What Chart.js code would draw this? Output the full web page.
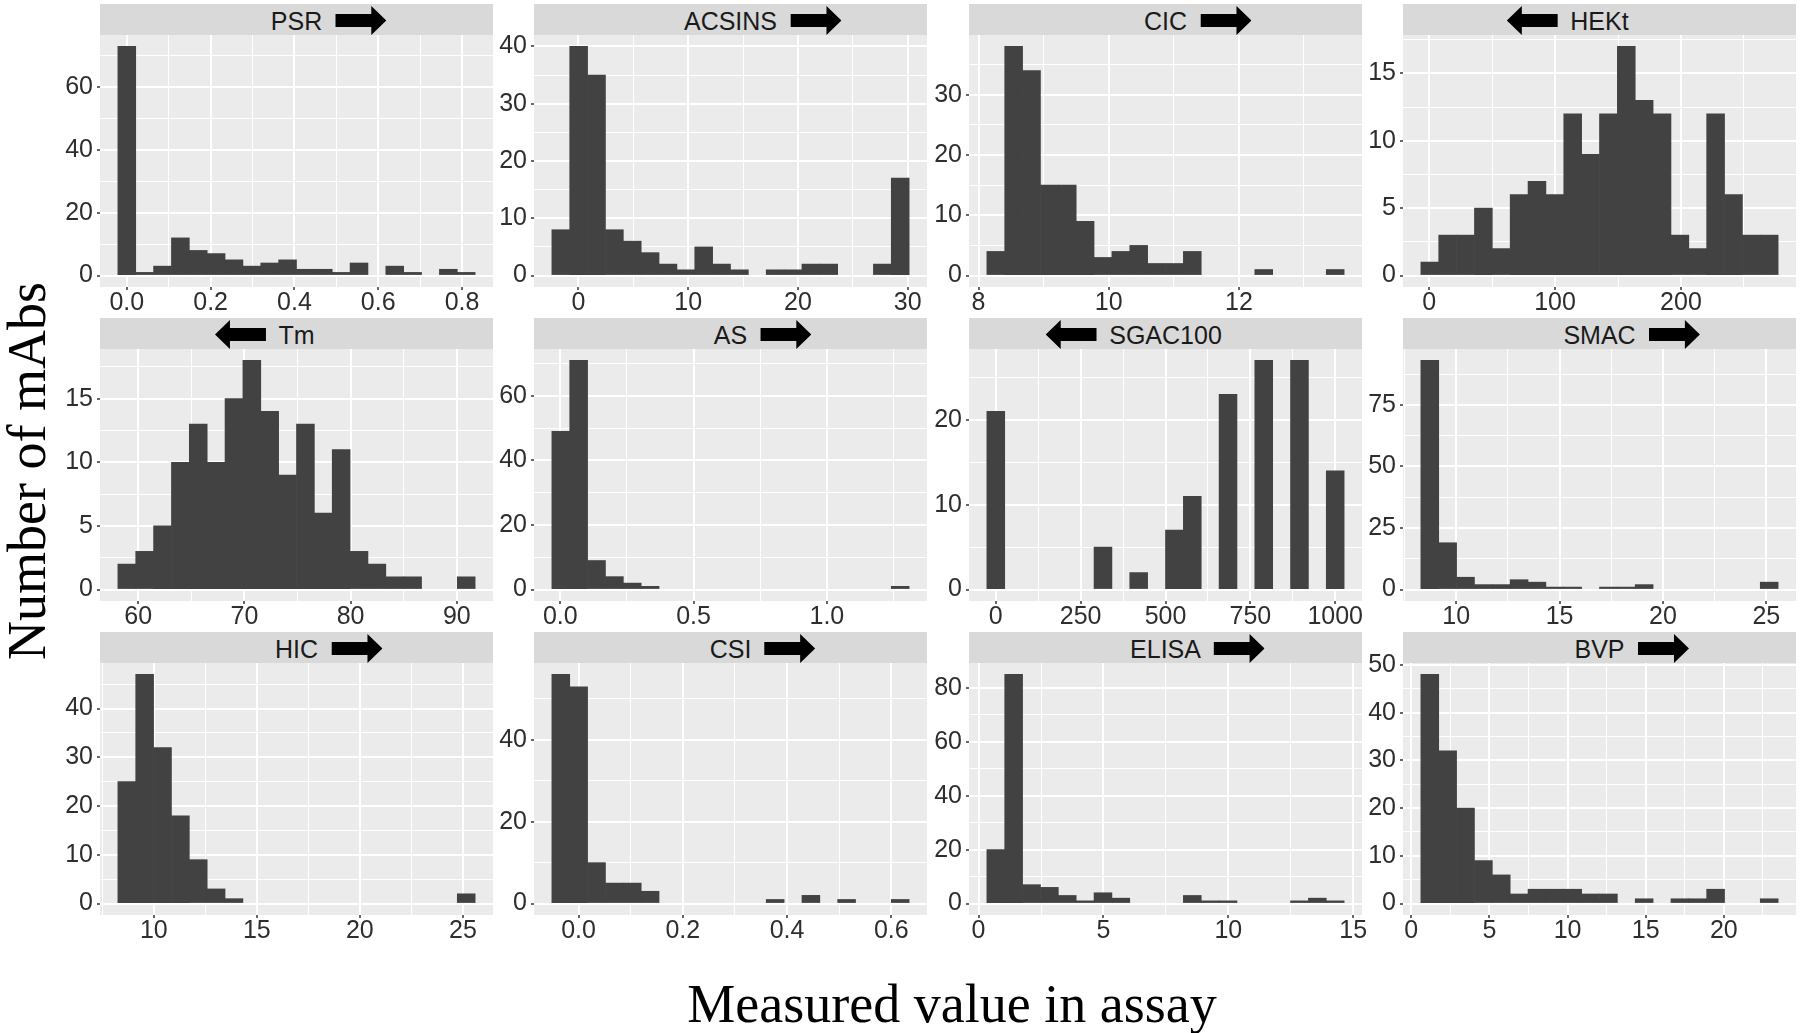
<!DOCTYPE html>
<html>
<head>
<meta charset="utf-8">
<script src="https://cdn.jsdelivr.net/npm/chart.js@4.4.1/dist/chart.umd.min.js"></script>
<style>
  html, body { margin: 0; padding: 0; background: #fff; }
  #fig { position: relative; width: 1800px; height: 1033px; overflow: hidden; font-family: "Liberation Sans", Arial, sans-serif; }
  .cell { position: absolute; }
  .strip { position: absolute; background: #d9d9d9; }
  .strip .lbl { position: absolute; left: 50%; top: calc(50% + 1px); transform: translate(-50%, -50%); font-size: 25px; line-height: 1; color: #1a1a1a; white-space: nowrap; }
  .strip svg { position: absolute; top: 50%; transform: translateY(-50%); }
  .title { position: absolute; font-family: "Liberation Serif", "Times New Roman", serif; font-size: 54px; line-height: 1; color: #000; white-space: nowrap; }
</style>
</head>
<body>
<div id="fig">
  <div class="title" style="left:452px; top:977px; width:1000px; text-align:center;">Measured value in assay</div>
  <div class="title" style="left:27px; top:471px; transform:translate(-50%,-50%) rotate(-90deg);">Number of mAbs</div>
</div>
<script>
// Histograms of 12 assay measurements for 137 mAbs (ggplot facet_wrap look)

// ---------- Data: 20 bins per assay, first/last bin centre ----------
const psrCounts = [73, 1, 3, 12, 8, 7, 5, 3, 4, 5, 2, 2, 1, 4, 0, 3, 1, 0, 2, 1];
const psrBins = [0.0, 0.81];
const psrXTicks = [0, 0.2, 0.4, 0.6, 0.8];
const psrXLabels = ["0.0", "0.2", "0.4", "0.6", "0.8"];
const psrYTicks = [0, 20, 40, 60];

const acsinsCounts = [8, 40, 35, 8, 6, 4, 2, 1, 5, 2, 1, 0, 1, 1, 2, 2, 0, 0, 2, 17];
const acsinsBins = [-1.61, 29.32];
const acsinsXTicks = [0, 10, 20, 30];
const acsinsYTicks = [0, 10, 20, 30, 40];

const cicCounts = [4, 38, 34, 15, 15, 9, 3, 4, 5, 2, 2, 4, 0, 0, 0, 1, 0, 0, 0, 1];
const cicBins = [8.265, 13.48];
const cicXTicks = [8, 10, 12];
const cicYTicks = [0, 10, 20, 30];

const hektCounts = [1, 3, 3, 5, 2, 6, 7, 6, 12, 9, 12, 17, 13, 12, 3, 2, 12, 6, 3, 3];
const hektBins = [0.5, 270.1];
const hektXTicks = [0, 100, 200];
const hektYTicks = [0, 5, 10, 15];

const tmCounts = [2, 3, 5, 10, 13, 10, 15, 18, 14, 9, 13, 6, 11, 3, 2, 1, 1, 0, 0, 1];
const tmBins = [58.93, 90.88];
const tmXTicks = [60, 70, 80, 90];
const tmYTicks = [0, 5, 10, 15];

const asCounts = [49, 71, 9, 4, 2, 1, 0, 0, 0, 0, 0, 0, 0, 0, 0, 0, 0, 0, 0, 1];
const asBins = [0.002, 1.275];
const asXTicks = [0, 0.5, 1.0];
const asXLabels = ["0.0", "0.5", "1.0"];
const asYTicks = [0, 20, 40, 60];

const sgacCounts = [21, 0, 0, 0, 0, 0, 5, 0, 2, 0, 7, 11, 0, 23, 0, 27, 0, 27, 0, 14];
const sgacBins = [0, 1000];
const sgacXTicks = [0, 250, 500, 750, 1000];
const sgacYTicks = [0, 10, 20];

const smacCounts = [93, 19, 5, 2, 2, 4, 3, 1, 1, 0, 1, 1, 2, 0, 0, 0, 0, 0, 0, 3];
const smacBins = [8.725, 25.14];
const smacXTicks = [10, 15, 20, 25];
const smacYTicks = [0, 25, 50, 75];

const hicCounts = [25, 47, 32, 18, 9, 3, 1, 0, 0, 0, 0, 0, 0, 0, 0, 0, 0, 0, 0, 2];
const hicBins = [8.69, 25.16];
const hicXTicks = [10, 15, 20, 25];
const hicYTicks = [0, 10, 20, 30, 40];

const csiCounts = [56, 53, 10, 5, 5, 3, 0, 0, 0, 0, 0, 0, 1, 0, 2, 0, 1, 0, 0, 1];
const csiBins = [-0.034, 0.617];
const csiXTicks = [0, 0.2, 0.4, 0.6];
const csiXLabels = ["0.0", "0.2", "0.4", "0.6"];
const csiYTicks = [0, 20, 40];

const elisaCounts = [20, 85, 7, 6, 3, 1, 4, 2, 0, 0, 0, 3, 1, 1, 0, 0, 0, 1, 2, 1];
const elisaBins = [0.69, 14.28];
const elisaXTicks = [0, 5, 10, 15];
const elisaYTicks = [0, 20, 40, 60, 80];

const bvpCounts = [48, 32, 20, 9, 6, 2, 3, 3, 3, 2, 2, 0, 1, 0, 1, 1, 3, 0, 0, 1];
const bvpBins = [1.19, 22.9];
const bvpXTicks = [0, 5, 10, 15, 20];
const bvpYTicks = [0, 10, 20, 30, 40, 50];

const panels = [
  { name: "PSR",     dir: "right", counts: psrCounts,    bins: psrBins,    xTicks: psrXTicks,    xLabels: psrXLabels, yTicks: psrYTicks },
  { name: "ACSINS",  dir: "right", counts: acsinsCounts, bins: acsinsBins, xTicks: acsinsXTicks, yTicks: acsinsYTicks },
  { name: "CIC",     dir: "right", counts: cicCounts,    bins: cicBins,    xTicks: cicXTicks,    yTicks: cicYTicks },
  { name: "HEKt",    dir: "left",  counts: hektCounts,   bins: hektBins,   xTicks: hektXTicks,   yTicks: hektYTicks },
  { name: "Tm",      dir: "left",  counts: tmCounts,     bins: tmBins,     xTicks: tmXTicks,     yTicks: tmYTicks },
  { name: "AS",      dir: "right", counts: asCounts,     bins: asBins,     xTicks: asXTicks,     xLabels: asXLabels, yTicks: asYTicks },
  { name: "SGAC100", dir: "left",  counts: sgacCounts,   bins: sgacBins,   xTicks: sgacXTicks,   yTicks: sgacYTicks },
  { name: "SMAC",    dir: "right", counts: smacCounts,   bins: smacBins,   xTicks: smacXTicks,   yTicks: smacYTicks },
  { name: "HIC",     dir: "right", counts: hicCounts,    bins: hicBins,    xTicks: hicXTicks,    yTicks: hicYTicks },
  { name: "CSI",     dir: "right", counts: csiCounts,    bins: csiBins,    xTicks: csiXTicks,    xLabels: csiXLabels, yTicks: csiYTicks },
  { name: "ELISA",   dir: "right", counts: elisaCounts,  bins: elisaBins,  xTicks: elisaXTicks,  yTicks: elisaYTicks },
  { name: "BVP",     dir: "right", counts: bvpCounts,    bins: bvpBins,    xTicks: bvpXTicks,    yTicks: bvpYTicks },
];

// ---------- Layout ----------
const COL_X = [100, 534, 969, 1403];
const ROW_Y = [4, 318, 632];        // strip tops
const PANEL_W = 393, PANEL_H = 252, STRIP_H = 31;
const Y_AXIS_W = 60, X_AXIS_H = 40, PAD_TOP = 24, PAD_RIGHT = 34;
const BAR = "#424242";
const TICK_TXT = "#2e2e2e";
const FONT = '"Liberation Sans", Arial, sans-serif';

const expand = (lo, hi) => { const d = (hi - lo) * 0.05; return [lo - d, hi + d]; };
const near = (a, b) => Math.abs(a - b) < 1e-9;

// majors + ggplot-style minor breaks half-way between them
function allTicks(majors, labels, min, max) {
  const step = majors[1] - majors[0];
  const out = majors.filter(v => v >= min && v <= max)
    .map(v => ({ value: v, isMajor: true, lbl: labels ? labels[majors.indexOf(v)] : String(v) }));
  for (let v = majors[0] - step / 2; v <= max + 1e-9; v += step) {
    if (v >= min && !majors.some(m => near(m, v))) out.push({ value: v, isMajor: false, lbl: "" });
  }
  return out.sort((a, b) => a.value - b.value);
}

const arrowSvg = (dir) => {
  const pts = "0,8 36,8 36,0 51,14.5 36,29 36,21 0,21";
  const flip = dir === "left" ? ' transform="translate(51,0) scale(-1,1)"' : "";
  const side = dir === "left" ? "right" : "left";
  return `<svg width="51" height="29" style="${side}:calc(100% + 13px)"><polygon points="${pts}" fill="#000"${flip}/></svg>`;
};

const panelBg = {
  id: "panelBg",
  beforeDraw(chart) {
    const { ctx, chartArea: a } = chart;
    ctx.save();
    ctx.fillStyle = "#ebebeb";
    ctx.fillRect(a.left, a.top, a.right - a.left, a.bottom - a.top);
    ctx.restore();
  }
};

const fig = document.getElementById("fig");

panels.forEach((p, i) => {
  const col = i % 4, row = Math.floor(i / 4);
  const px = COL_X[col], sy = ROW_Y[row], py = sy + STRIP_H;

  // strip
  const strip = document.createElement("div");
  strip.className = "strip";
  strip.style.cssText = `left:${px}px;top:${sy}px;width:${PANEL_W}px;height:${STRIP_H}px;`;
  strip.innerHTML = `<span class="lbl">${p.name}${arrowSvg(p.dir)}</span>`;
  fig.appendChild(strip);

  // chart cell
  const cell = document.createElement("div");
  cell.className = "cell";
  cell.style.cssText = `left:${px - Y_AXIS_W}px;top:${py - PAD_TOP}px;width:${Y_AXIS_W + PANEL_W + PAD_RIGHT}px;height:${PAD_TOP + PANEL_H + X_AXIS_H}px;`;
  const canvas = document.createElement("canvas");
  cell.appendChild(canvas);
  fig.appendChild(cell);

  const n = p.counts.length;
  const w = (p.bins[1] - p.bins[0]) / (n - 1);
  const centers = p.counts.map((_, k) => p.bins[0] + k * w);
  const [xMin, xMax] = expand(p.bins[0] - w / 2, p.bins[1] + w / 2);
  const [yMin, yMax] = expand(0, Math.max(...p.counts));
  const xt = allTicks(p.xTicks, p.xLabels, xMin, xMax);
  const yt = allTicks(p.yTicks, null, yMin, yMax);

  const grid = {
    color: "#ffffff",
    lineWidth: (c) => (c.tick && c.tick.isMajor ? 2 : 1),
    drawTicks: true,
    tickLength: 3,
    tickWidth: 1.5,
    tickColor: (c) => (c.tick && c.tick.isMajor ? "#333333" : "rgba(0,0,0,0)"),
    offset: false,
  };
  const tickFont = { family: FONT, size: 25 };

  new Chart(canvas, {
    type: "bar",
    data: {
      datasets: [{
        // empty bins are left out (null) so nothing is drawn for them
        data: centers.map((x, k) => ({ x, y: p.counts[k] > 0 ? p.counts[k] : null })),
        backgroundColor: BAR,
        borderWidth: 0,
        barPercentage: 1,
        categoryPercentage: 1,
      }]
    },
    options: {
      responsive: true,
      maintainAspectRatio: false,
      animation: false,
      events: [],
      layout: { padding: { top: PAD_TOP, right: PAD_RIGHT, left: 0, bottom: 0 } },
      plugins: { legend: { display: false }, tooltip: { enabled: false } },
      scales: {
        x: {
          type: "linear", min: xMin, max: xMax, bounds: "data", offset: false,
          grid, border: { display: false },
          afterBuildTicks: (s) => { s.ticks = xt.map(t => ({ ...t })); },
          afterFit: (s) => { s.height = X_AXIS_H; },
          ticks: { autoSkip: false, maxRotation: 0, padding: 1, color: TICK_TXT,
                   font: { ...tickFont, lineHeight: 1 }, callback: (v, k, ts) => ts[k].lbl || "" },
        },
        y: {
          type: "linear", min: yMin, max: yMax, bounds: "data",
          grid, border: { display: false },
          afterBuildTicks: (s) => { s.ticks = yt.map(t => ({ ...t })); },
          afterFit: (s) => { s.width = Y_AXIS_W; },
          ticks: { autoSkip: false, padding: 4, color: TICK_TXT, font: tickFont,
                   callback: (v, k, ts) => ts[k].lbl || "" },
        }
      }
    },
    plugins: [panelBg],
  });
});
</script>
</body>
</html>
